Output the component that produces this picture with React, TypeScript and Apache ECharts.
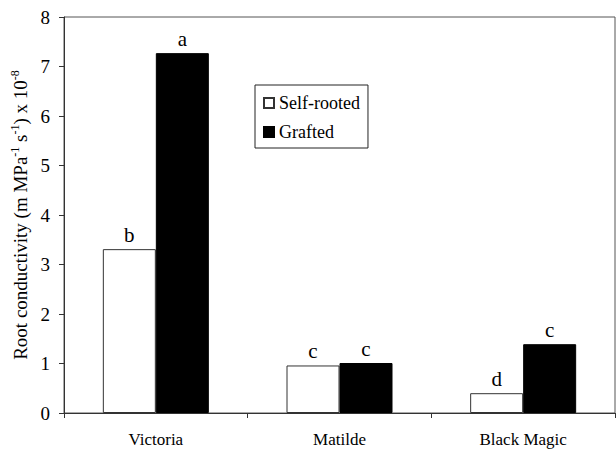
import React, { useEffect, useRef } from "react";
import * as echarts from "echarts";

// Cultivars on the category axis
const cultivars = ["Victoria", "Matilde", "Black Magic"];
// Root conductivity (m MPa^-1 s^-1) x 10^-8
const selfRooted = [3.31, 0.96, 0.4];
const grafted = [7.27, 1.01, 1.39];
// Significance letters above each bar
const selfLetters = ["b", "c", "d"];
const graftedLetters = ["a", "c", "c"];
// Y axis range
const yMin = 0;
const yMax = 8;
const yStep = 1;

const serif = "Liberation Serif";

export default function App() {
  const ref = useRef<HTMLDivElement>(null);

  useEffect(() => {
    if (!ref.current) return;
    const chart = echarts.init(ref.current, undefined, { renderer: "svg" });

    const letterLabel = (letters: string[]) => ({
      show: true,
      position: "top",
      distance: 4,
      fontFamily: serif,
      fontSize: 21,
      color: "#000",
      formatter: (p: any) => letters[p.dataIndex],
    });

    chart.setOption({
      animation: false,
      backgroundColor: "#fff",
      textStyle: { fontFamily: serif },
      grid: {
        left: 64,
        right: 1,
        top: 17,
        bottom: 39,
        show: true,
        borderColor: "#555",
        borderWidth: 1,
      },
      legend: {
        orient: "vertical",
        left: 255,
        top: 85,
        itemWidth: 10,
        itemHeight: 10,
        itemGap: 9,
        icon: "rect",
        borderColor: "#222",
        borderWidth: 1,
        padding: [8, 8, 6, 8],
        textStyle: { fontFamily: serif, fontSize: 18, color: "#000", lineHeight: 20 },
        data: ["Self-rooted", "Grafted"],
      },
      xAxis: {
        type: "category",
        data: cultivars,
        boundaryGap: true,
        axisLine: { lineStyle: { color: "#333", width: 1 } },
        axisTick: { show: true, alignWithLabel: false, length: 5, lineStyle: { color: "#333" } },
        axisLabel: { color: "#000", fontFamily: serif, fontSize: 17, margin: 18 },
      },
      yAxis: {
        type: "value",
        min: yMin,
        max: yMax,
        interval: yStep,
        name: "{n|Root conductivity (m MPa}{s|-1}{n| s}{s|-1}{n|) x 10}{s|-8}",
        nameLocation: "middle",
        nameGap: 28,
        nameRotate: 90,
        nameTextStyle: {
          rich: {
            n: { fontFamily: serif, fontSize: 19, color: "#000", lineHeight: 22 },
            s: { fontFamily: serif, fontSize: 12, color: "#000", lineHeight: 12, verticalAlign: "top" },
          },
        },
        axisLine: { show: true, lineStyle: { color: "#333", width: 1 } },
        axisTick: { show: true, length: 5, lineStyle: { color: "#333" } },
        axisLabel: { color: "#000", fontFamily: serif, fontSize: 19, margin: 14 },
        splitLine: { show: false },
      },
      series: [
        {
          name: "Self-rooted",
          type: "bar",
          data: selfRooted,
          barWidth: 53,
          barGap: "0%",
          itemStyle: { color: "#fff", borderColor: "#333", borderWidth: 1 },
          label: letterLabel(selfLetters),
        },
        {
          name: "Grafted",
          type: "bar",
          data: grafted,
          barWidth: 53,
          barGap: "0%",
          itemStyle: { color: "#000", borderColor: "#000", borderWidth: 1 },
          label: letterLabel(graftedLetters),
        },
      ],
    });

    return () => chart.dispose();
  }, []);

  return (
    <div
      ref={ref}
      style={{ position: "absolute", left: 0, top: 0, width: 616, height: 452 }}
    />
  );
}
